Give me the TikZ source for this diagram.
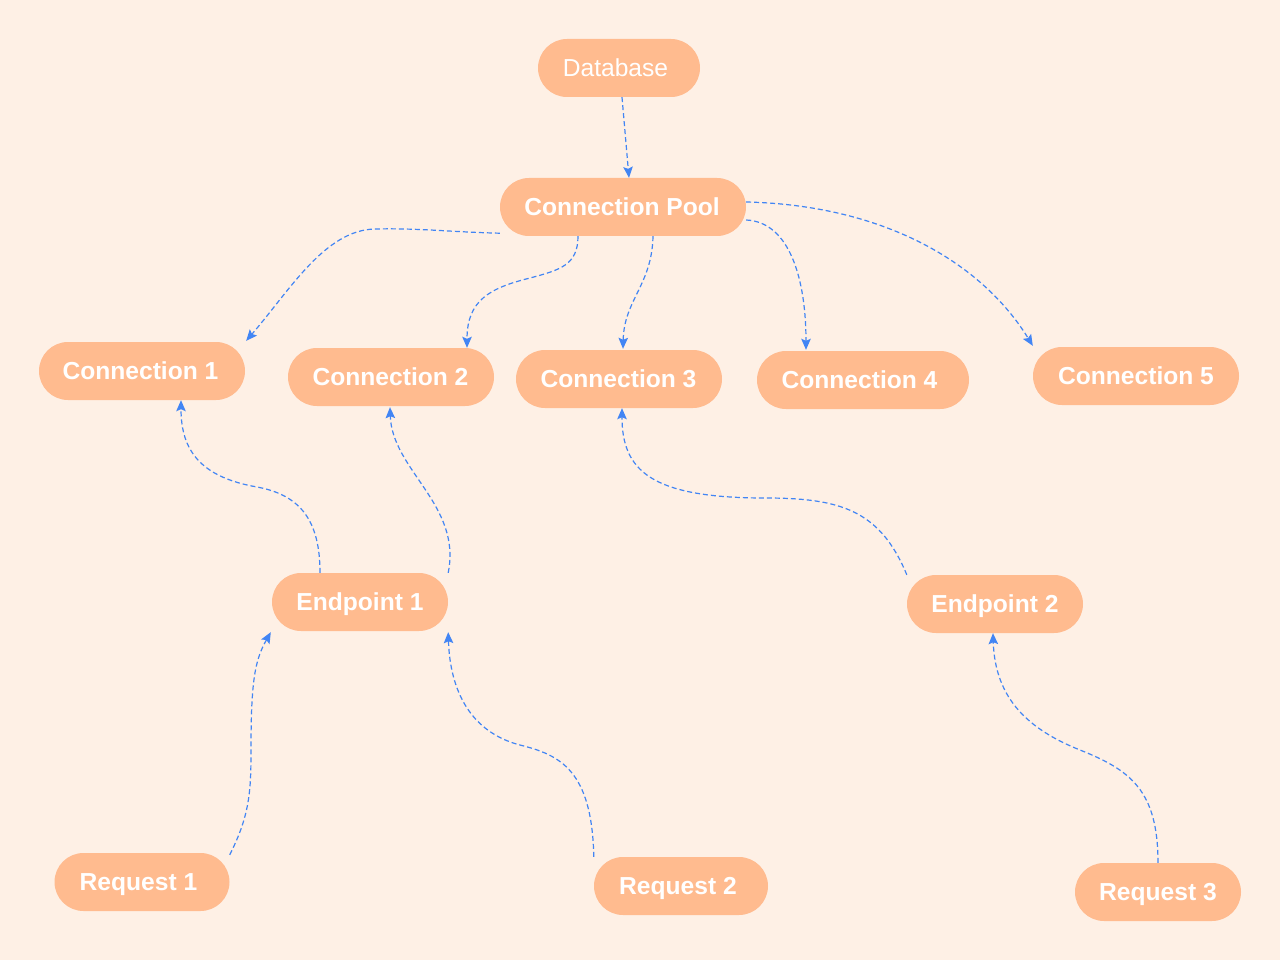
\documentclass[tikz,border=0pt]{standalone}
\usepackage{fontspec}
\setmainfont{Liberation Sans}
\usetikzlibrary{calc,arrows.meta}
\definecolor{bgc}{HTML}{FEF0E5}
\definecolor{boxc}{HTML}{FFBB8F}
\definecolor{linkc}{HTML}{4285F4}
\tikzset{
  box/.style={draw=none, fill=boxc, rounded corners=29pt, minimum height=58pt,
    inner sep=0pt, text=white, text height=17.8pt, text depth=0.4pt,
    font=\fontsize{24.6}{28}\selectfont\bfseries},
  plainbox/.style={box, font=\fontsize{24.6}{28}\selectfont},
  link/.style={draw=linkc, line width=1.2pt, dash pattern=on 5pt off 3pt,
    -{Stealth[length=11pt,width=9.5pt,inset=2pt]}},
}
\begin{document}
\begin{tikzpicture}[x=1pt,y=-1pt]
\fill[bgc] (0,0) rectangle (1280,960);
\useasboundingbox (0,0) rectangle (1280,960);

\node[plainbox, minimum width=162pt] (db) at (619,68) {Database\kern7pt};
\node[box, minimum width=246pt] (pool) at (623,207) {Connection Pool\kern2pt};
\node[box, minimum width=206pt] (c1) at (142,371) {Connection 1\kern3pt};
\node[box, minimum width=206pt] (c2) at (391,377) {Connection 2\kern1pt};
\node[box, minimum width=206pt] (c3) at (619,379) {Connection 3\kern1pt};
\node[box, minimum width=212pt] (c4) at (863,380) {Connection 4\kern7pt};
\node[box, minimum width=206pt] (c5) at (1136,376) {Connection 5};
\node[box, minimum width=176pt] (e1) at (360,602) {Endpoint 1};
\node[box, minimum width=176pt] (e2) at (995,604) {Endpoint 2};
\node[box, minimum width=175pt] (r1) at (142,882) {Request 1\kern7pt};
\node[box, minimum width=174pt] (r2) at (681,886) {Request 2\kern6pt};
\node[box, minimum width=166pt] (r3) at (1158,892) {Request 3};

% Database -> Pool
\draw[link] ($(db.south)+(3,0)$) -- ($(pool.north)+(6,0)$);
% Pool -> Connections
\draw[link] ($(pool.south west)+(0,-3)$) .. controls (450,232) and (420,228) .. (375,229)
  .. controls (325,230) and (290,290) .. ($(c1.north east)+(1,-1)$);
\draw[link] ($(pool.south)+(-45,0)$) .. controls (578,265) and (560,270) .. (530,278)
  .. controls (490,288) and (467,300) .. ($(c2.north)+(76,0)$);
\draw[link] ($(pool.south)+(30,0)$) .. controls (652,285) and (624,300) .. ($(c3.north)+(4,-1)$);
\draw[link] ($(pool.east)+(0,13)$) .. controls (790,222) and (806,280) .. ($(c4.north)+(-57,-1)$);
\draw[link] ($(pool.east)+(0,-5)$) .. controls (880,205) and (980,260) .. ($(c5.north west)+(0,-1)$);
% Endpoints -> Connections
\draw[link] ($(e1.north)+(-40,0)$) .. controls (320,520) and (300,495) .. (257,487)
  .. controls (200,477) and (181,450) .. ($(c1.south)+(39,0)$);
\draw[link] (e1.north east) .. controls (462,505) and (392,470) .. ($(c2.south)+(-1,1)$);
\draw[link] (e2.north west) .. controls (880,510) and (840,498) .. (765,498)
  .. controls (650,498) and (622,470) .. ($(c3.south)+(3,0)$);
% Requests -> Endpoints
\draw[link] ($(r1.north east)+(0,2)$) .. controls (250,815) and (251,790) .. (251,750)
  .. controls (251,680) and (255,660) .. ($(e1.south west)+(-1,1)$);
\draw[link] (r2.north west) .. controls (592,770) and (560,755) .. (520,745)
  .. controls (470,732) and (450,690) .. ($(e1.south east)+(0,1)$);
\draw[link] (r3.north) .. controls (1158,790) and (1130,770) .. (1080,750)
  .. controls (1030,730) and (995,700) .. ($(e2.south)+(-2,0)$);
\end{tikzpicture}
\end{document}
